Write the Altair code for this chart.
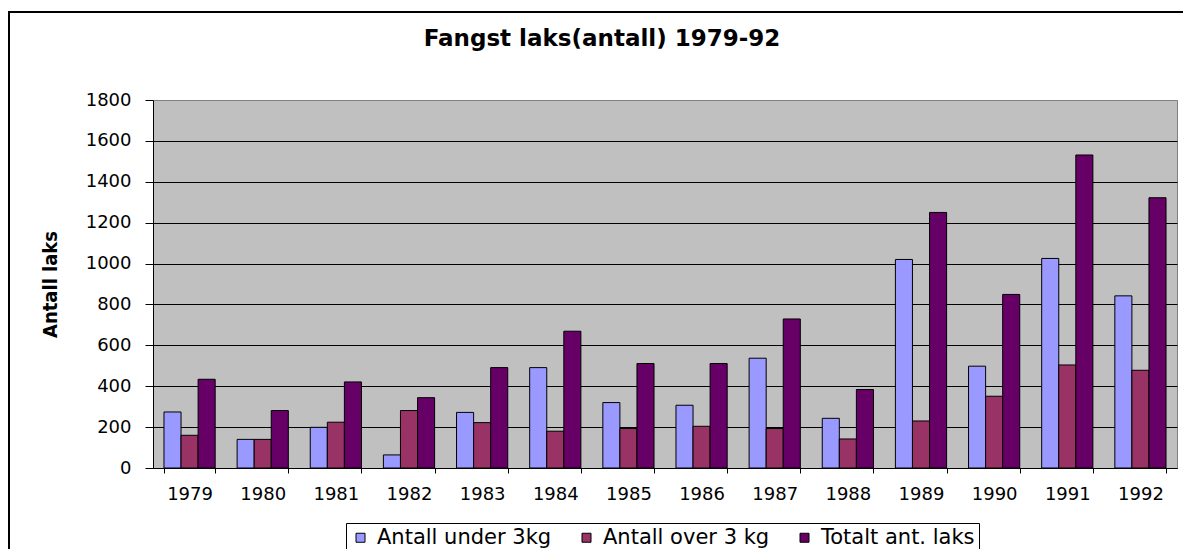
import altair as alt
import pandas as pd

years = ["1979", "1980", "1981", "1982", "1983", "1984", "1985",
         "1986", "1987", "1988", "1989", "1990", "1991", "1992"]
under3 = [274, 140, 199, 64, 272, 491, 320, 307, 537, 243, 1020, 498, 1025, 842]
over3 = [160, 140, 224, 281, 222, 180, 193, 204, 193, 142, 230, 351, 504, 478]
total = [434, 281, 421, 344, 491, 669, 511, 511, 729, 384, 1250, 849, 1531, 1322]
series = ["Antall under 3kg", "Antall over 3 kg", "Totalt ant. laks"]
colors = ["#9999FF", "#993366", "#660066"]
y_ticks = [0, 200, 400, 600, 800, 1000, 1200, 1400, 1600, 1800]

rows = []
for name, vals in zip(series, [under3, over3, total]):
    for yr, v in zip(years, vals):
        rows.append({"year": yr, "series": name, "value": v})
df = pd.DataFrame(rows)

FONT = "DejaVu Sans"

bars = alt.Chart(df).mark_bar(stroke="black", strokeWidth=1).encode(
    x=alt.X("year:N", sort=years,
            scale=alt.Scale(paddingInner=0.3, paddingOuter=0.15),
            axis=alt.Axis(title=None, labelAngle=0, tickBand="extent",
                          tickSize=5, tickColor="black", domainColor="black",
                          labelFont=FONT, labelFontSize=18, labelColor="black",
                          labelPadding=12, grid=False)),
    xOffset=alt.XOffset("series:N", sort=series,
                        scale=alt.Scale(domain=series, paddingInner=0, paddingOuter=0)),
    y=alt.Y("value:Q", scale=alt.Scale(domain=[0, 1800], nice=False),
            axis=alt.Axis(values=y_ticks, format="d", title="Antall laks", grid=True,
                          gridColor=alt.condition("datum.value == 1800",
                                                  alt.value("#808080"), alt.value("black")),
                          gridWidth=1, tickSize=8,
                          tickColor="black", domainColor="black",
                          labelFont=FONT, labelFontSize=18, labelColor="black",
                          labelPadding=14,
                          titleFont="'Liberation Sans Narrow', 'DejaVu Sans Condensed', 'Arial Narrow', sans-serif",
                          titleFontSize=20, titleFontWeight="bold", titleColor="black",
                          titleAngle=270, titleX=-103, titleY=184,
                          titleAlign="center", titleBaseline="middle")),
    color=alt.Color("series:N", sort=series,
                    scale=alt.Scale(domain=series, range=colors),
                    legend=alt.Legend(title=None, orient="none", legendX=193, legendY=423,
                                      direction="horizontal", strokeColor="black",
                                      padding=4, symbolType="square", symbolSize=81,
                                      symbolStrokeColor="black", symbolStrokeWidth=1,
                                      labelFont=FONT, labelFontSize=21, labelColor="black",
                                      labelOffset=6, columnPadding=24, labelLimit=400)),
)

frame = alt.Chart(pd.DataFrame({"k": [0]})).mark_rect(
    fill="transparent", stroke="black", strokeWidth=2, clip=False
).encode(
    x=alt.value(-144), x2=alt.value(1100),
    y=alt.value(-88), y2=alt.value(500),
)

chart = alt.layer(frame, bars).properties(
    width=1024, height=368,
    autosize="none",
    padding={"left": 145, "top": 92, "right": 6, "bottom": 81},
    title=alt.Title("Fangst laks(antall) 1979-92", font=FONT, fontSize=23,
                    fontWeight="bold", color="black", anchor="middle",
                    dx=-63, offset=-58, baseline="alphabetic"),
).configure_view(fill="#C0C0C0", stroke="#808080", strokeWidth=1)

chart.save("out.html", embed_options={"renderer": "svg", "actions": False})
